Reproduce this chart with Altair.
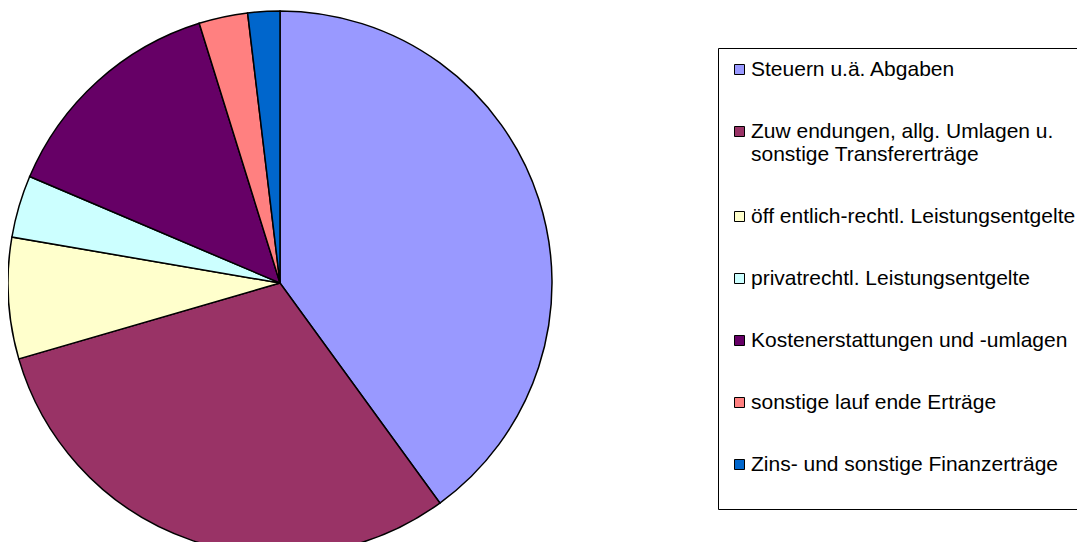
import altair as alt
import pandas as pd

categories = [
    "Steuern u.ä. Abgaben",
    "Zuw endungen, allg. Umlagen u.|sonstige Transfererträge",
    "öff entlich-rechtl. Leistungsentgelte",
    "privatrechtl. Leistungsentgelte",
    "Kostenerstattungen und -umlagen",
    "sonstige lauf ende Erträge",
    "Zins- und sonstige Finanzerträge",
]
values = [40.0, 30.5, 7.2, 3.7, 13.8, 2.9, 1.9]
colors = ["#9999FF", "#993366", "#FFFFCC", "#CCFFFF", "#660066", "#FF8080", "#0066CC"]

df = pd.DataFrame({"cat": categories, "value": values, "order": list(range(len(categories)))})

last = categories[-1]

chart = alt.Chart(df).mark_arc(radius=272, stroke="black", strokeWidth=1.5).encode(
    theta=alt.Theta("value:Q", stack=True),
    order=alt.Order("order:Q"),
    color=alt.Color(
        "cat:N",
        scale=alt.Scale(domain=categories, range=colors),
        legend=alt.Legend(
            title=None,
            orient="none",
            legendX=710,
            legendY=40,
            strokeColor="black",
            fillColor="white",
            padding=11,
            symbolType="square",
            symbolSize=100,
            symbolStrokeColor="black",
            symbolStrokeWidth=1,
            labelFont="Liberation Sans",
            labelFontSize=21,
            labelColor="black",
            labelOffset=1,
            labelLimit=0,
            rowPadding=40,
            labelExpr="datum.label == '" + last + "' ? [datum.label, ' '] : split(datum.label, '|')",
        ),
    ),
    x=alt.value(272),
    y=alt.value(275),
).properties(
    width=1069, height=534, padding=0, autosize="none"
).configure_view(stroke=None)

chart.save("out.html", embed_options={"renderer": "svg", "actions": False})
